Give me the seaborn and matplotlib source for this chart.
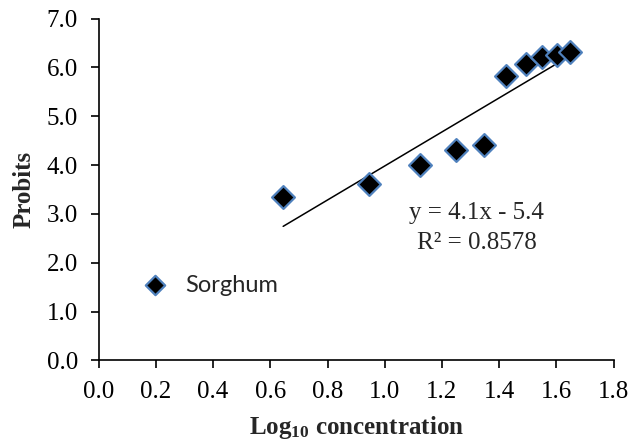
import matplotlib
matplotlib.use('Agg')
import matplotlib.pyplot as plt
import seaborn as sns
import pandas as pd

# Data
log_conc = [0.645, 0.946, 1.123, 1.249, 1.347, 1.424, 1.492, 1.550, 1.602, 1.648]
probits = [3.35, 3.62, 4.00, 4.30, 4.42, 5.83, 6.06, 6.21, 6.25, 6.31]
series_name = 'Sorghum'
eq_text = 'y = 4.1x - 5.4'
r2_text = 'R\u00b2 = 0.8578'
x_ticks = [0.0, 0.2, 0.4, 0.6, 0.8, 1.0, 1.2, 1.4, 1.6, 1.8]
y_ticks = [0.0, 1.0, 2.0, 3.0, 4.0, 5.0, 6.0, 7.0]

df = pd.DataFrame({'x': log_conc, 'y': probits})

SERIF = 'Liberation Serif'
EDGE_BLUE = '#4F81BD'
FS = 18

sns.set_style('ticks')
plt.rcParams['font.family'] = [SERIF, 'DejaVu Serif']
plt.rcParams['mathtext.default'] = 'regular'

fig = plt.figure(figsize=(6.32, 4.46), dpi=100)
ax = fig.add_axes([0.156, 0.192, 0.815, 0.7665])

# trendline (least squares over the data range)
sns.regplot(data=df, x='x', y='y', ax=ax, scatter=False, ci=None, truncate=True,
            line_kws={'color': 'black', 'linewidth': 1.1})

sns.scatterplot(data=df, x='x', y='y', ax=ax, marker='D', s=135, color='black',
                edgecolor=EDGE_BLUE, linewidth=1.6, label=series_name, zorder=3)

ax.set_xlim(0, 1.8)
ax.set_ylim(0, 7)
ax.set_xticks(x_ticks)
ax.set_yticks(y_ticks)
ax.set_xticklabels([f'{v:.1f}' for v in x_ticks])
ax.set_yticklabels([f'{v:.1f}' for v in y_ticks])
ax.tick_params(axis='both', labelsize=FS, length=6, width=1.2, color='black',
               labelcolor='black', direction='out', pad=9)
for side in ['top', 'right']:
    ax.spines[side].set_visible(False)
for side in ['left', 'bottom']:
    ax.spines[side].set_linewidth(1.2)
    ax.spines[side].set_color('black')

ax.set_xlabel('Log$_{10}$ concentration', fontsize=FS, fontweight='bold', labelpad=8)
ax.set_ylabel('Probits', fontsize=FS, fontweight='bold', labelpad=8)

ax.text(1.322, 3.01, eq_text, ha='center', va='center', fontsize=FS)
ax.text(1.322, 2.40, r2_text, ha='center', va='center', fontsize=FS)

leg = ax.legend(loc='center left', bbox_to_anchor=(0.092, 0.22), frameon=False,
                borderaxespad=0, borderpad=0, handlelength=0.8, handletextpad=0.85,
                markerscale=0.85, prop={'family': ['Lato', 'DejaVu Sans'], 'size': 17})

fig.savefig('out.png', dpi=100)
